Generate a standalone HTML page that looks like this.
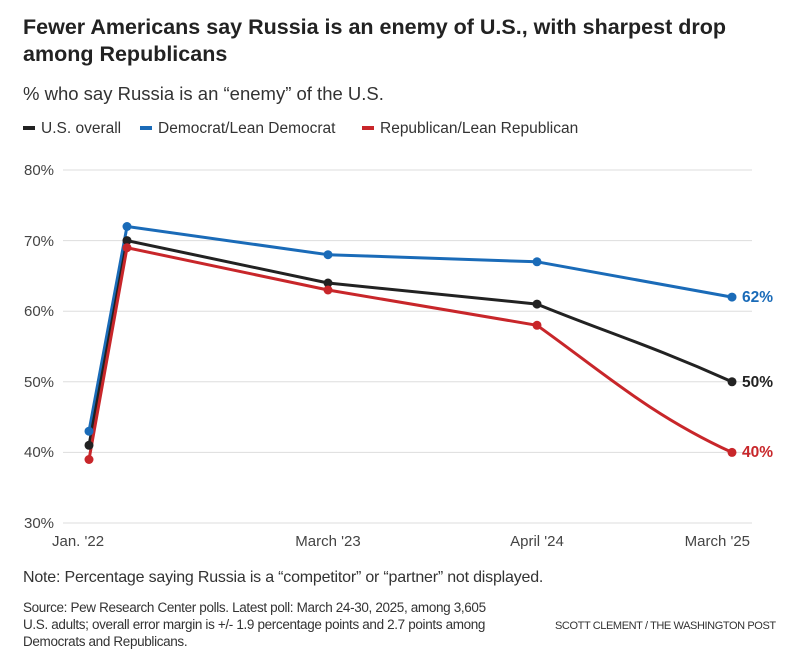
<!DOCTYPE html>
<html><head><meta charset="utf-8"><style>
body{margin:0;width:800px;height:655px;background:#fff;font-family:"Liberation Sans",sans-serif;overflow:hidden;position:relative;color:#222}
.t{position:absolute;left:23px;top:14px;font-size:21.5px;font-weight:bold;line-height:27px;color:#222;width:740px}
.s{position:absolute;left:23px;top:83px;font-size:18.5px;color:#333}
.lg{position:absolute;top:120px;font-size:15.5px;color:#333;white-space:nowrap}
.lg i{display:inline-block;width:12px;height:4px;vertical-align:middle;margin-right:6px;margin-top:-2px}
.n{position:absolute;left:23px;font-size:16px;color:#333;white-space:nowrap;letter-spacing:-0.2px}
.src{position:absolute;left:23px;top:599px;font-size:13.5px;line-height:17px;color:#333;width:510px;letter-spacing:-0.35px}
</style></head><body>
<div class="t">Fewer Americans say Russia is an enemy of U.S., with sharpest drop among Republicans</div>
<div class="s">% who say Russia is an “enemy” of the U.S.</div>
<div class="lg" style="left:23px"><i style="background:#222"></i>U.S. overall</div>
<div class="lg" style="left:140px"><i style="background:#1a6bb8"></i>Democrat/Lean Democrat</div>
<div class="lg" style="left:362px"><i style="background:#c8262a"></i>Republican/Lean Republican</div>
<svg width="800" height="655" style="position:absolute;left:0;top:0" font-family="Liberation Sans,sans-serif">
<g stroke="#ddd" stroke-width="1">
<line x1="63" x2="752" y1="170" y2="170"/><line x1="63" x2="752" y1="240.6" y2="240.6"/><line x1="63" x2="752" y1="311.2" y2="311.2"/><line x1="63" x2="752" y1="381.8" y2="381.8"/><line x1="63" x2="752" y1="452.4" y2="452.4"/><line x1="63" x2="752" y1="523" y2="523"/>
</g>
<g font-size="15" fill="#444">
<text x="24" y="175">80%</text><text x="24" y="246">70%</text><text x="24" y="316">60%</text><text x="24" y="387">50%</text><text x="24" y="457">40%</text><text x="24" y="528">30%</text>
<text x="52" y="546">Jan. '22</text><text x="328" y="546" text-anchor="middle">March '23</text><text x="537" y="546" text-anchor="middle">April '24</text><text x="750" y="546" text-anchor="end">March '25</text>
</g>
<g fill="none" stroke-width="3" stroke-linejoin="round">
<path stroke="#1a6bb8" d="M89 431.2 L127 226.5 L328 254.7 L537 261.8 L732 297.1"/>
<path stroke="#222" d="M89 445.3 L127 240.6 L328 283 L537 304.1 C600 330 650 345 732 381.8"/>
<path stroke="#c8262a" d="M89 459.5 L127 247.7 L328 290 L537 325.3 C600 370 650 415 732 452.4"/>
</g>
<g fill="#1a6bb8"><circle cx="89" cy="431.2" r="4.5"/><circle cx="127" cy="226.5" r="4.5"/><circle cx="328" cy="254.7" r="4.5"/><circle cx="537" cy="261.8" r="4.5"/><circle cx="732" cy="297.1" r="4.5"/></g>
<g fill="#222"><circle cx="89" cy="445.3" r="4.5"/><circle cx="127" cy="240.6" r="4.5"/><circle cx="328" cy="283" r="4.5"/><circle cx="537" cy="304.1" r="4.5"/><circle cx="732" cy="381.8" r="4.5"/></g>
<g fill="#c8262a"><circle cx="89" cy="459.5" r="4.5"/><circle cx="127" cy="247.7" r="4.5"/><circle cx="328" cy="290" r="4.5"/><circle cx="537" cy="325.3" r="4.5"/><circle cx="732" cy="452.4" r="4.5"/></g>
<g font-size="15.5" font-weight="bold">
<text x="742" y="302" fill="#1a6bb8">62%</text><text x="742" y="387" fill="#222">50%</text><text x="742" y="457" fill="#c8262a">40%</text>
</g>
</svg>
<div class="n" style="top:569px">Note: Percentage saying Russia is a “competitor” or “partner” not displayed.</div>
<div class="src">Source: Pew Research Center polls. Latest poll: March 24-30, 2025, among 3,605<br>U.S. adults; overall error margin is +/- 1.9 percentage points and 2.7 points among Democrats and Republicans.</div>
<div class="n" style="top:620px;left:555px;font-size:11px;letter-spacing:-0.4px">SCOTT CLEMENT / THE WASHINGTON POST</div>
</body></html>
